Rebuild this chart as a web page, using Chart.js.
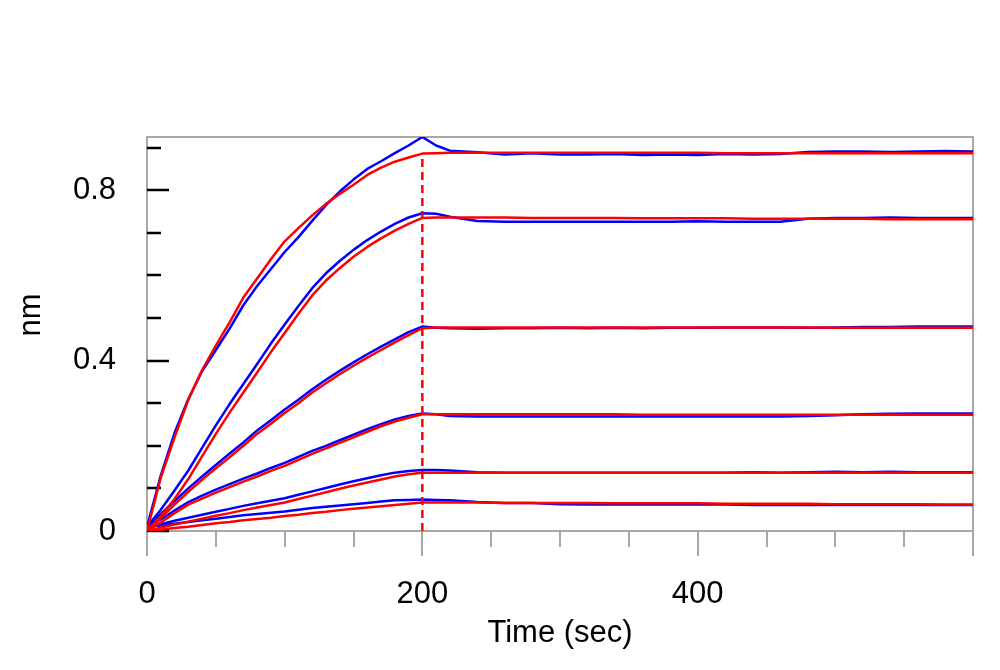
<!DOCTYPE html>
<html>
<head>
<meta charset="utf-8">
<script src="https://cdn.jsdelivr.net/npm/chart.js@4.4.1/dist/chart.umd.min.js"></script>
<style>
  body { margin: 0; background: #fff; }
  canvas { display: block; }
</style>
</head>
<body>
<canvas id="bliChart" width="1000" height="670"></canvas>
<script>
// sample times (sec): association 0-200, dissociation 200-600
const timeSec = [0,10,20,30,40,50,60,70,80,90,100,110,120,130,140,150,160,170,180,190,200,
  210,220,240,260,280,300,320,340,360,380,400,420,440,460,480,500,520,540,560,580,600];

// red = fitted curves (nm), highest concentration first
const fit1 = [0,0.125,0.22,0.308,0.378,0.435,0.49,0.548,0.593,0.638,0.68,0.711,0.741,0.768,0.791,0.813,0.836,0.853,0.867,0.877,0.886,
  0.887,0.888,0.888,0.888,0.888,0.888,0.888,0.888,0.888,0.888,0.888,0.887,0.887,0.887,0.887,0.887,0.887,0.887,0.887,0.887,0.887];
const fit2 = [0,0.035,0.075,0.122,0.175,0.228,0.278,0.325,0.372,0.42,0.465,0.51,0.553,0.588,0.617,0.644,0.667,0.687,0.705,0.721,0.735,
  0.736,0.736,0.736,0.736,0.735,0.735,0.735,0.735,0.734,0.734,0.734,0.734,0.733,0.733,0.733,0.733,0.733,0.732,0.732,0.732,0.732];
const fit3 = [0,0.03,0.062,0.092,0.12,0.147,0.173,0.2,0.228,0.252,0.277,0.3,0.325,0.347,0.368,0.388,0.407,0.425,0.443,0.46,0.476,
  0.478,0.478,0.478,0.478,0.478,0.478,0.478,0.478,0.478,0.478,0.478,0.478,0.478,0.478,0.478,0.477,0.477,0.477,0.477,0.477,0.477];
const fit4 = [0,0.02,0.042,0.062,0.076,0.09,0.103,0.116,0.128,0.141,0.153,0.167,0.181,0.194,0.207,0.22,0.233,0.246,0.257,0.266,0.274,
  0.274,0.274,0.274,0.274,0.274,0.274,0.274,0.274,0.273,0.273,0.273,0.273,0.273,0.273,0.273,0.273,0.273,0.273,0.273,0.273,0.273];
const fit5 = [0,0.008,0.015,0.022,0.029,0.036,0.042,0.049,0.055,0.061,0.067,0.075,0.083,0.091,0.099,0.107,0.114,0.121,0.128,0.133,0.137,
  0.137,0.137,0.137,0.137,0.137,0.137,0.137,0.137,0.137,0.137,0.137,0.137,0.137,0.137,0.137,0.137,0.137,0.137,0.137,0.137,0.137];
const fit6 = [0,0.003,0.007,0.01,0.014,0.018,0.021,0.025,0.028,0.031,0.035,0.038,0.042,0.045,0.049,0.052,0.055,0.058,0.061,0.064,0.067,
  0.067,0.067,0.067,0.066,0.066,0.066,0.066,0.065,0.065,0.065,0.065,0.064,0.064,0.064,0.064,0.063,0.063,0.063,0.063,0.062,0.062];

// blue = measured response (nm)
const raw1 = [0.01,0.13,0.23,0.31,0.375,0.425,0.475,0.53,0.575,0.615,0.655,0.69,0.728,0.765,0.797,0.825,0.85,0.868,0.887,0.905,0.925,
  0.905,0.893,0.889,0.884,0.887,0.884,0.884,0.885,0.883,0.884,0.883,0.885,0.884,0.885,0.890,0.891,0.891,0.890,0.891,0.892,0.891];
const raw2 = [0.01,0.05,0.095,0.142,0.195,0.248,0.298,0.345,0.392,0.44,0.485,0.528,0.57,0.605,0.634,0.66,0.683,0.703,0.721,0.736,0.746,
  0.745,0.738,0.728,0.726,0.726,0.726,0.726,0.726,0.726,0.726,0.727,0.726,0.726,0.726,0.733,0.735,0.735,0.736,0.735,0.735,0.735];
const raw3 = [0.01,0.04,0.07,0.1,0.128,0.155,0.182,0.208,0.236,0.26,0.285,0.308,0.333,0.355,0.376,0.396,0.415,0.433,0.45,0.467,0.48,
  0.477,0.476,0.475,0.476,0.476,0.477,0.476,0.477,0.476,0.477,0.477,0.478,0.478,0.478,0.477,0.478,0.479,0.479,0.48,0.48,0.48];
const raw4 = [0.01,0.027,0.048,0.068,0.083,0.097,0.11,0.123,0.135,0.148,0.16,0.174,0.188,0.2,0.213,0.226,0.239,0.251,0.262,0.27,0.276,
  0.274,0.27,0.269,0.269,0.269,0.269,0.269,0.269,0.269,0.269,0.269,0.269,0.269,0.269,0.27,0.272,0.274,0.275,0.276,0.276,0.276];
const raw5 = [0.01,0.016,0.024,0.031,0.038,0.045,0.052,0.059,0.065,0.071,0.077,0.085,0.093,0.101,0.109,0.117,0.124,0.131,0.137,0.141,0.143,
  0.143,0.142,0.138,0.137,0.137,0.137,0.137,0.137,0.137,0.137,0.137,0.137,0.138,0.137,0.138,0.139,0.138,0.139,0.138,0.138,0.138];
const raw6 = [0.01,0.013,0.017,0.021,0.025,0.029,0.033,0.037,0.04,0.043,0.046,0.05,0.054,0.057,0.06,0.063,0.066,0.069,0.072,0.073,0.074,
  0.073,0.072,0.068,0.066,0.066,0.063,0.062,0.062,0.062,0.062,0.062,0.062,0.061,0.061,0.061,0.061,0.061,0.061,0.061,0.061,0.061];

// end of association marker
const markerTime = [200, 200];
const markerValue = [0, 0.887];

// axis ticks
const xLabelVals = [0, 200, 400];
const xTickMarks = [0,50,100,150,200,250,300,350,400,450,500,550,600];
const xLongMarks = [0, 200, 400, 600];
const yLabelVals = [0, 0.4, 0.8];
const yTickMarks = [0,0.1,0.2,0.3,0.4,0.5,0.6,0.7,0.8,0.9];

const fits = [fit1, fit2, fit3, fit4, fit5, fit6];
const raws = [raw1, raw2, raw3, raw4, raw5, raw6];

function toPoints(xs, ys) {
  return xs.map((t, i) => ({ x: t, y: ys[i] }));
}

let datasets = [];
datasets.push({
  data: toPoints(markerTime, markerValue),
  borderColor: '#ff0000', borderWidth: 2.5, borderDash: [8, 5],
  pointRadius: 0
});
fits.forEach(f => {
  datasets.push({ data: toPoints(timeSec, f), borderColor: '#ff0000', borderWidth: 2.5, pointRadius: 0 });
});
raws.forEach(r => {
  datasets.push({ data: toPoints(timeSec, r), borderColor: '#0000ff', borderWidth: 2.5, pointRadius: 0 });
});

const labelFont = { family: "'Liberation Sans', Arial, sans-serif", size: 31 };

// box round the plot + tick marks (y ticks inside, x ticks outside)
const frameTicks = {
  id: 'frameTicks',
  beforeDatasetsDraw(chart) {
    const { ctx, chartArea: a, scales: { x, y } } = chart;
    ctx.save();
    ctx.strokeStyle = '#a8a8a8';
    ctx.lineWidth = 2;
    ctx.strokeRect(a.left, a.top, a.right - a.left, a.bottom - a.top);

    xTickMarks.forEach(v => {
      const px = Math.round(x.getPixelForValue(v));
      const len = xLongMarks.includes(v) ? 25 : 16;
      ctx.beginPath();
      ctx.moveTo(px, a.bottom);
      ctx.lineTo(px, a.bottom + len);
      ctx.stroke();
    });

    ctx.strokeStyle = '#000';
    ctx.lineWidth = 2.5;
    yTickMarks.forEach(v => {
      const py = Math.round(y.getPixelForValue(v));
      const len = yLabelVals.includes(v) ? 22 : 14;
      ctx.beginPath();
      ctx.moveTo(a.left, py);
      ctx.lineTo(a.left + len, py);
      ctx.stroke();
    });
    ctx.restore();
  },
  afterDraw(chart) {
    // y axis title sits a bit above the middle of the plot
    const { ctx, chartArea: a } = chart;
    ctx.save();
    ctx.translate(31, a.top + 178);
    ctx.rotate(-Math.PI / 2);
    ctx.font = labelFont.size + 'px ' + labelFont.family;
    ctx.fillStyle = '#000';
    ctx.textAlign = 'center';
    ctx.textBaseline = 'middle';
    ctx.fillText('nm', 0, 0);
    ctx.restore();
  }
};

new Chart(document.getElementById('bliChart'), {
  type: 'line',
  data: { datasets: datasets },
  options: {
    responsive: false,
    animation: false,
    layout: { padding: { top: 137, right: 27, left: 0, bottom: 0 } },
    plugins: { legend: { display: false }, tooltip: { enabled: false } },
    elements: { line: { tension: 0, borderJoinStyle: 'round' } },
    scales: {
      x: {
        type: 'linear', min: 0, max: 600,
        grid: { display: false, drawTicks: false },
        border: { display: false },
        afterBuildTicks: s => { s.ticks = xLabelVals.map(v => ({ value: v })); },
        afterFit: s => { s.height = 139; },
        ticks: { padding: 45, font: labelFont, color: '#000', maxRotation: 0 },
        title: { display: true, text: 'Time (sec)', font: labelFont, color: '#000', padding: { top: 0, bottom: 18 } }
      },
      y: {
        type: 'linear', min: 0, max: 0.925,
        grid: { display: false, drawTicks: false },
        border: { display: false },
        afterBuildTicks: s => { s.ticks = yLabelVals.map(v => ({ value: v })); },
        afterFit: s => { s.width = 147; },
        ticks: { padding: 31, font: labelFont, color: '#000' }
      }
    }
  },
  plugins: [frameTicks]
});
</script>
</body>
</html>
